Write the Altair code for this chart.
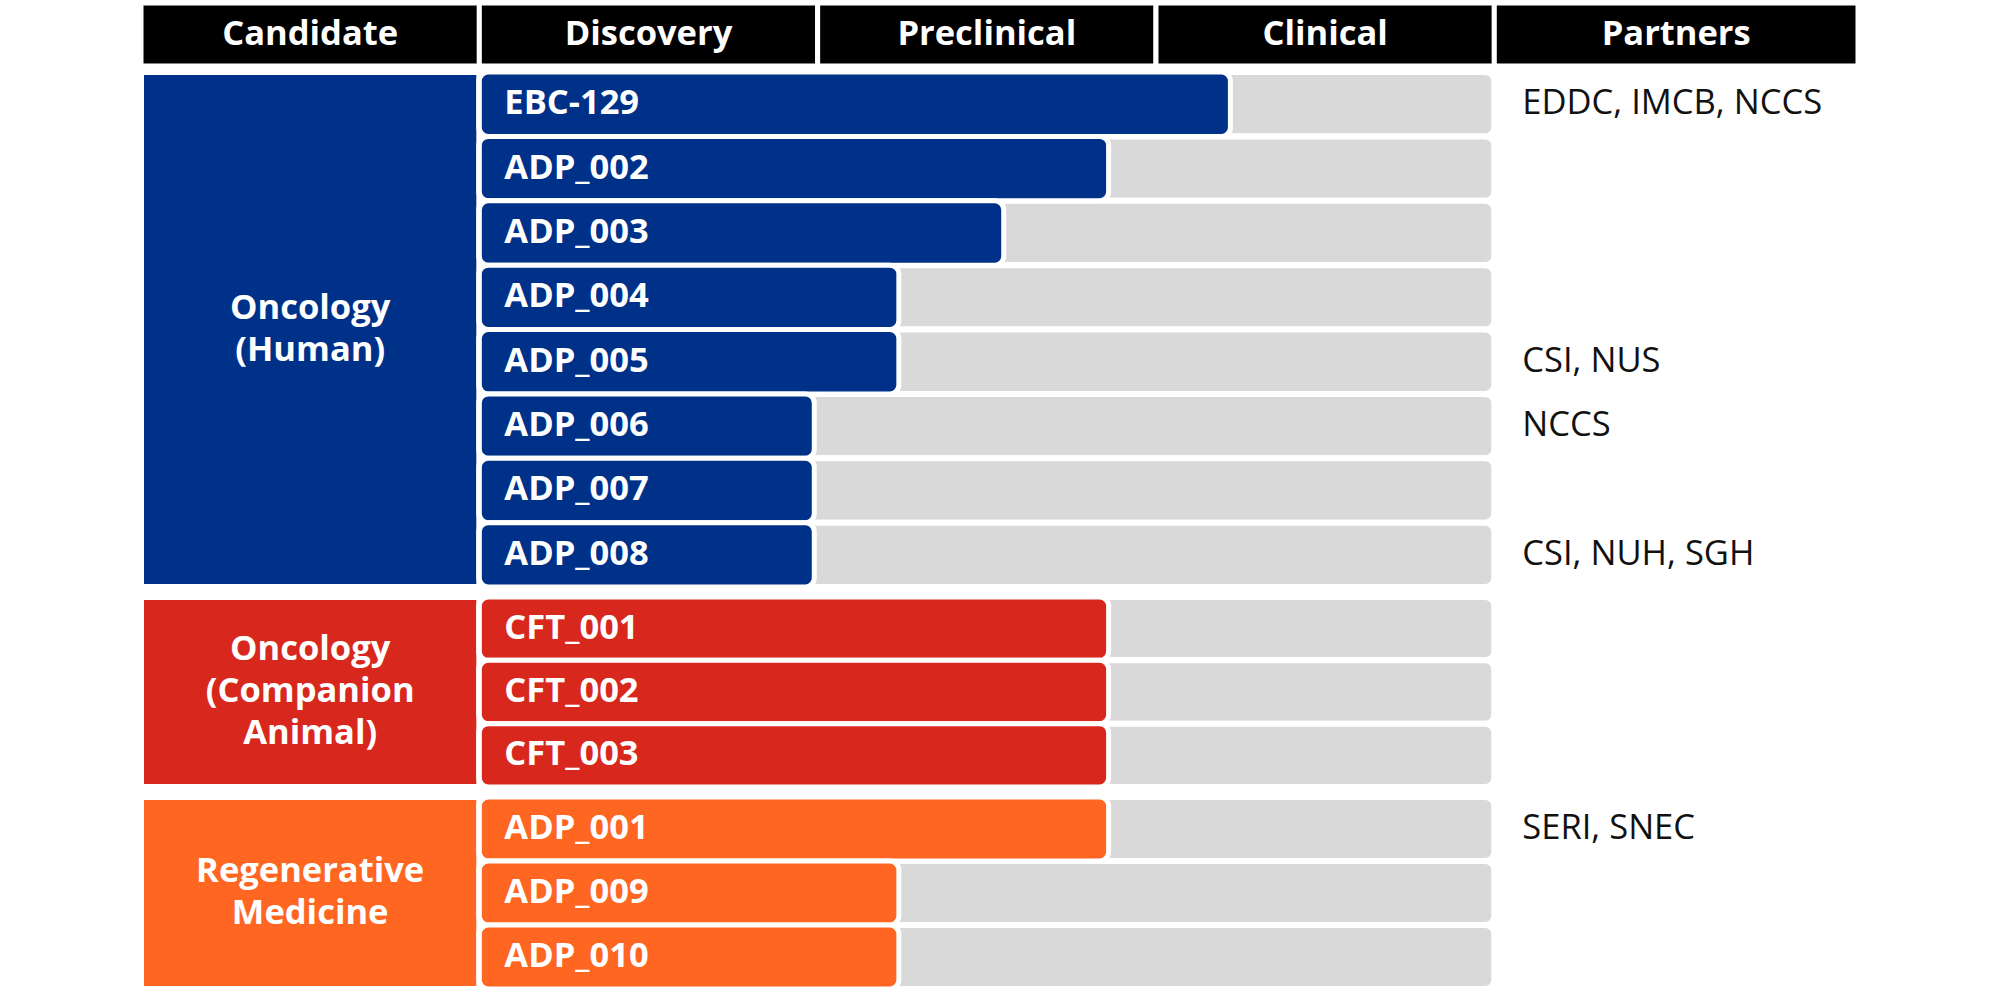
import altair as alt
import pandas as pd

# ---------------- data ----------------
header_labels = ["Candidate", "Discovery", "Preclinical", "Clinical", "Partners"]
header_start = [-1, 0, 1, 2, 3]
header_end = [0, 1, 2, 3, 4.075]

group_names = ["Oncology\n(Human)", "Oncology\n(Companion\nAnimal)", "Regenerative\nMedicine"]
group_colors = ["#003189", "#D8281E", "#FE6621"]

g1_candidates = ["EBC-129", "ADP_002", "ADP_003", "ADP_004", "ADP_005", "ADP_006", "ADP_007", "ADP_008"]
g1_progress = [2.22, 1.86, 1.55, 1.24, 1.24, 0.99, 0.99, 0.99]
g1_partners = ["EDDC, IMCB, NCCS", "", "", "", "CSI, NUS", "NCCS", "", "CSI, NUH, SGH"]

g2_candidates = ["CFT_001", "CFT_002", "CFT_003"]
g2_progress = [1.86, 1.86, 1.86]
g2_partners = ["", "", ""]

g3_candidates = ["ADP_001", "ADP_009", "ADP_010"]
g3_progress = [1.86, 1.24, 1.24]
g3_partners = ["SERI, SNEC", "", ""]

pipeline_start = 0
pipeline_end = 3

# ---------------- layout ----------------
FONT = "Open Sans"
FS = 34.5
W = 1717
LINE_H = 42
XS = alt.Scale(domain=[-1, 4.075], nice=False, zero=False)


def header_panel():
    df = pd.DataFrame({"label": header_labels, "start": header_start, "end": header_end})
    base = alt.Chart(df).transform_calculate(mid="(datum.start + datum.end) / 2")
    rect = base.mark_rect(color="black", stroke="white", strokeWidth=5).encode(
        x=alt.X("start:Q", scale=XS, axis=None), x2="end:Q"
    )
    txt = base.mark_text(
        font=FONT, fontSize=FS, fontWeight="bold", color="white", align="center", baseline="middle"
    ).encode(x=alt.X("mid:Q", scale=XS, axis=None), text="label:N")
    return alt.layer(rect, txt).properties(width=W, height=63)


def group_panel(name, color, cands, prog, partners, height):
    df = pd.DataFrame({
        "candidate": cands,
        "progress": prog,
        "partners": partners,
        "start": [pipeline_start] * len(cands),
        "end": [pipeline_end] * len(cands),
    })
    gdf = pd.DataFrame({"group": [name], "g0": [-1], "g1": [0]})
    nlines = name.count("\n") + 1
    y = alt.Y("candidate:N", sort=cands, axis=None,
              scale=alt.Scale(paddingInner=0, paddingOuter=0))
    base = alt.Chart(df)
    box = alt.Chart(gdf).mark_rect(color=color, stroke="white", strokeWidth=6).encode(
        x=alt.X("g0:Q", scale=XS, axis=None), x2="g1:Q"
    )
    glabel = alt.Chart(gdf).transform_calculate(gm="(datum.g0 + datum.g1) / 2").mark_text(
        font=FONT, fontSize=FS, fontWeight="bold", color="white", align="center",
        baseline="middle", lineBreak="\n", lineHeight=LINE_H,
        dy=-(nlines - 1) * LINE_H / 2,
    ).encode(x=alt.X("gm:Q", scale=XS, axis=None), text="group:N")
    gray = base.mark_bar(color="#D9D9D9", cornerRadius=9, stroke="white", strokeWidth=6).encode(
        x=alt.X("start:Q", scale=XS, axis=None), x2="end:Q", y=y
    )
    bar = base.mark_bar(color=color, cornerRadius=9, stroke="white", strokeWidth=5).encode(
        x=alt.X("start:Q", scale=XS, axis=None), x2="progress:Q", y=y
    )
    lbl = base.mark_text(
        font=FONT, fontSize=FS, fontWeight="bold", color="white", align="left",
        baseline="middle", dx=25
    ).encode(x=alt.X("start:Q", scale=XS, axis=None), y=y, text="candidate:N")
    prt = base.mark_text(
        font=FONT, fontSize=FS, color="#111111", align="left", baseline="middle", dx=28
    ).encode(x=alt.X("end:Q", scale=XS, axis=None), y=y, text="partners:N")
    return alt.layer(box, glabel, gray, bar, lbl, prt).properties(width=W, height=height)


body = alt.vconcat(
    group_panel(group_names[0], group_colors[0], g1_candidates, g1_progress, g1_partners, 515),
    group_panel(group_names[1], group_colors[1], g2_candidates, g2_progress, g2_partners, 190),
    group_panel(group_names[2], group_colors[2], g3_candidates, g3_progress, g3_partners, 192),
    spacing=10,
    bounds="flush",
)

chart = alt.vconcat(
    header_panel(),
    body,
    spacing=6,
    bounds="flush",
).properties(
    padding={"left": 138, "top": 0, "right": 0, "bottom": 0},
    background="white",
).configure_view(stroke=None)

chart.save("out.html", embed_options={"renderer": "svg", "actions": False})
